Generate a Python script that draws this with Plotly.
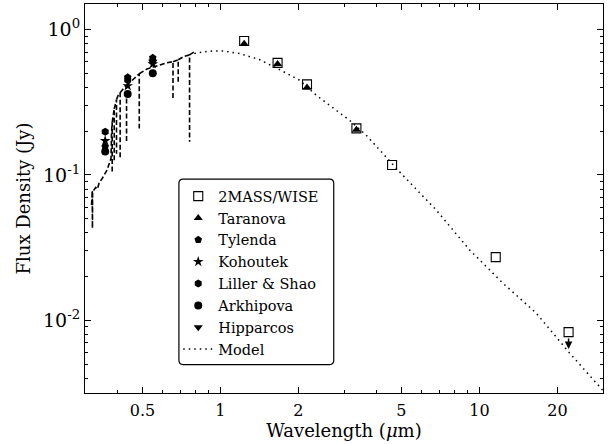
import numpy as np
import plotly.graph_objects as go

# ---------------- data ----------------
# 2MASS / WISE photometry (um, Jy)
twomass_wave = [1.235, 1.662, 2.159, 3.35, 4.60, 11.56, 22.09]
twomass_flux = [0.835, 0.59, 0.42, 0.209, 0.117, 0.0272, 0.0083]
# Taranova
taranova_wave = [1.235, 1.662, 2.159, 3.35]
taranova_flux = [0.80, 0.58, 0.40, 0.205]
# Tylenda
tylenda_wave = [0.359, 0.4385, 0.548]
tylenda_flux = [0.157, 0.47, 0.64]
# Kohoutek
kohoutek_wave = [0.359, 0.4385, 0.548]
kohoutek_flux = [0.172, 0.41, 0.58]
# Liller & Shao
liller_wave = [0.359, 0.4385, 0.548]
liller_flux = [0.198, 0.45, 0.61]
# Arkhipova
arkhipova_wave = [0.359, 0.4385, 0.548]
arkhipova_flux = [0.145, 0.36, 0.50]
# Hipparcos
hipparcos_wave = [0.548]
hipparcos_flux = [0.60]

# Optical spectrum (dashed); None separates absorption-line drops
spec_wave = [0.318, 0.320, 0.3205, 0.321, 0.325, 0.330, 0.335, 0.340, 0.350, 0.360,
             0.365, 0.370, 0.375, 0.378, 0.380, 0.382, 0.382, None,
             0.382, 0.386, 0.389, 0.389, None,
             0.389, 0.393, 0.397, 0.397, None,
             0.397, 0.402, 0.410, 0.410, None,
             0.410, 0.418, 0.426, 0.434, 0.434, None,
             0.434, 0.445, 0.460, 0.475, 0.486, 0.486, None,
             0.486, 0.500, 0.520, 0.550, 0.580, 0.620, 0.656, 0.656, None,
             0.656, 0.672, 0.687, 0.687, None,
             0.687, 0.705, 0.725, 0.760, 0.760, None,
             0.760, 0.775, 0.790]
spec_flux = [0.062, 0.078, 0.043, 0.076, 0.079, 0.082, 0.080, 0.088, 0.095, 0.103,
             0.108, 0.116, 0.124, 0.130, 0.200, 0.230, 0.103, None,
             0.230, 0.265, 0.285, 0.125, None,
             0.285, 0.310, 0.330, 0.140, None,
             0.330, 0.350, 0.368, 0.130, None,
             0.368, 0.385, 0.400, 0.412, 0.166, None,
             0.412, 0.430, 0.455, 0.480, 0.497, 0.209, None,
             0.497, 0.515, 0.535, 0.552, 0.570, 0.590, 0.602, 0.336, None,
             0.602, 0.615, 0.620, 0.426, None,
             0.620, 0.640, 0.655, 0.670, 0.169, None,
             0.670, 0.685, 0.700]

# Model (dotted)
model_wave = [0.793, 0.855, 0.934, 1.021, 1.184, 1.415, 1.690, 2.018, 2.342, 2.714,
              3.148, 3.652, 4.233, 4.911, 6.804, 9.15, 12.3, 16.55, 22.26, 29.06, 30.5]
model_flux = [0.684, 0.702, 0.713, 0.713, 0.684, 0.622, 0.531, 0.449, 0.354, 0.2915,
              0.238, 0.188, 0.141, 0.1053, 0.0575, 0.0306, 0.01806, 0.01124, 0.00597,
              0.00352, 0.00318]

x_tickvals = [0.5, 1, 2, 5, 10, 20]
x_ticktext = ["0.5", "1", "2", "5", "10", "20"]
x_minor = [0.3, 0.4, 0.6, 0.7, 0.8, 0.9, 3, 4, 6, 7, 8, 9, 30]
y_tickvals = [0.01, 0.1, 1]
y_ticktext = ["10<sup>-2</sup>", "10<sup>-1</sup>", "10<sup>0</sup>"]
y_minor = [0.004, 0.005, 0.006, 0.007, 0.008, 0.009,
           0.02, 0.03, 0.04, 0.05, 0.06, 0.07, 0.08, 0.09,
           0.2, 0.3, 0.4, 0.5, 0.6, 0.7, 0.8, 0.9]

FONT = "DejaVu Serif, Liberation Serif, serif"

fig = go.Figure()

fig.add_trace(go.Scatter(x=spec_wave, y=spec_flux, mode="lines", showlegend=False,
                         connectgaps=False,
                         line=dict(color="black", width=1.6, dash="5px,2.5px")))

fig.add_trace(go.Scatter(x=twomass_wave, y=twomass_flux, mode="markers", name="2MASS/WISE",
                         marker=dict(symbol="square-open", size=9, color="black",
                                     line=dict(width=1.1, color="black"))))
fig.add_trace(go.Scatter(x=taranova_wave, y=taranova_flux, mode="markers", name="Taranova",
                         marker=dict(symbol="triangle-up", size=8, color="black")))
fig.add_trace(go.Scatter(x=tylenda_wave, y=tylenda_flux, mode="markers", name="Tylenda",
                         marker=dict(symbol="pentagon", size=8, color="black")))
fig.add_trace(go.Scatter(x=kohoutek_wave, y=kohoutek_flux, mode="markers", name="Kohoutek",
                         marker=dict(symbol="star", size=8, color="black")))
fig.add_trace(go.Scatter(x=liller_wave, y=liller_flux, mode="markers", name="Liller & Shao",
                         marker=dict(symbol="hexagon", size=8, color="black")))
fig.add_trace(go.Scatter(x=arkhipova_wave, y=arkhipova_flux, mode="markers", name="Arkhipova",
                         marker=dict(symbol="circle", size=8, color="black")))
fig.add_trace(go.Scatter(x=hipparcos_wave, y=hipparcos_flux, mode="markers", name="Hipparcos",
                         marker=dict(symbol="triangle-down", size=8, color="black")))
fig.add_trace(go.Scatter(x=model_wave, y=model_flux, mode="lines", name="Model",
                         line=dict(color="black", width=1.5, dash="1.5px,4px")))

# upper-limit arrow on the last WISE point
fig.add_annotation(x=np.log10(twomass_wave[-1]), y=np.log10(twomass_flux[-1]),
                   xref="x", yref="y", ax=0, ay=-12, yshift=-17, text="",
                   showarrow=True, arrowhead=2, arrowsize=1, arrowwidth=1.5,
                   arrowcolor="black")

# rounded legend frame
L, R, T, B = 0.1813, 0.4802, 0.55, 0.0731
rx, ry = 0.008, 0.011
path = (f"M {L+rx},{T} L {R-rx},{T} Q {R},{T} {R},{T-ry} L {R},{B+ry} "
        f"Q {R},{B} {R-rx},{B} L {L+rx},{B} Q {L},{B} {L},{B+ry} "
        f"L {L},{T-ry} Q {L},{T} {L+rx},{T} Z")
fig.add_shape(type="path", path=path, xref="paper", yref="paper",
              line=dict(color="black", width=1.2), fillcolor="white", layer="above")

axis_common = dict(type="log", showline=True, linecolor="black", linewidth=1.2,
                   mirror="ticks", ticks="inside", ticklen=6, tickwidth=1,
                   tickcolor="black", showgrid=False, zeroline=False)

fig.update_xaxes(**axis_common, range=[np.log10(0.3), np.log10(30)],
                 tickvals=x_tickvals, ticktext=x_ticktext, ticklabelstandoff=3,
                 tickfont=dict(family=FONT, size=16, color="black"),
                 minor=dict(tickvals=x_minor, ticks="inside", ticklen=3, tickcolor="black"),
                 title=dict(text="Wavelength (<i>μ</i>m)", standoff=2,
                            font=dict(family=FONT, size=18, color="black")))
fig.update_yaxes(**axis_common, range=[-2.5, np.log10(1.5)],
                 tickvals=y_tickvals, ticktext=y_ticktext,
                 tickfont=dict(family=FONT, size=19, color="black"),
                 minor=dict(tickvals=y_minor, ticks="inside", ticklen=3, tickcolor="black"),
                 title=dict(text="Flux Density (Jy)", standoff=7,
                            font=dict(family=FONT, size=18, color="black")))

fig.update_layout(
    width=610, height=444,
    margin=dict(l=85, r=6.5, t=3.5, b=50.5),
    paper_bgcolor="white", plot_bgcolor="white",
    font=dict(family=FONT, size=15, color="black"),
    legend=dict(x=0.18, y=0.547, xanchor="left", yanchor="top",
                bgcolor="rgba(0,0,0,0)", borderwidth=0,
                font=dict(family=FONT, size=14.5, color="black")),
)

fig.write_html("out.html")
